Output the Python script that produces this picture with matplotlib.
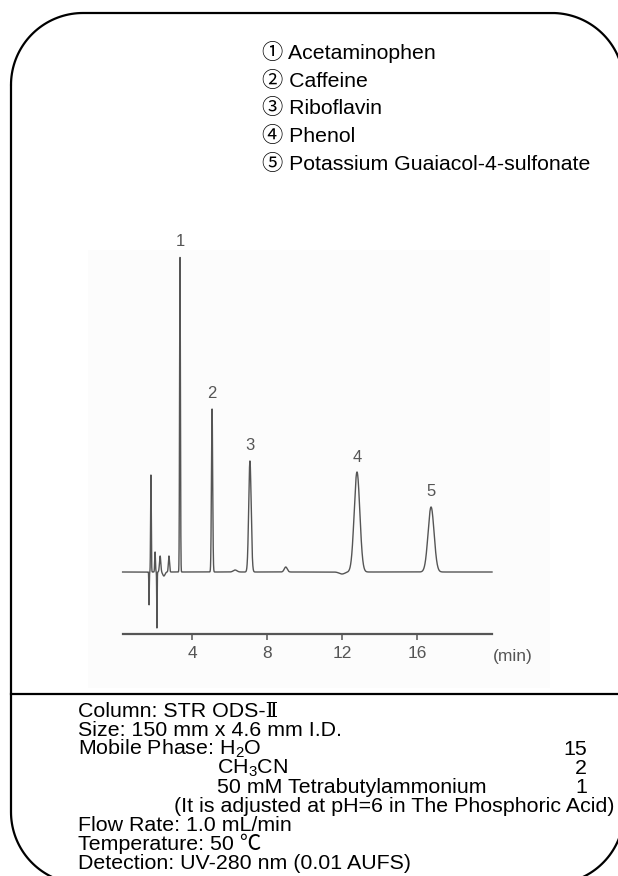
import numpy as np
import matplotlib
matplotlib.use("Agg")
import matplotlib.pyplot as plt
from matplotlib.patches import Rectangle

# ---------------- data ----------------
compounds = ["Acetaminophen", "Caffeine", "Riboflavin", "Phenol",
             "Potassium Guaiacol-4-sulfonate"]
circled = ["①", "②", "③", "④", "⑤"]
peak_labels = ["1", "2", "3", "4", "5"]
peak_rt = [3.36, 5.07, 7.09, 12.8, 16.75]          # min
peak_height = [315, 163, 111, 100, 65]              # detector units
peak_sigma = [0.022, 0.032, 0.065, 0.15, 0.16]      # min

# solvent front / minor features
minor_rt = [1.71, 1.81, 2.03, 2.13, 2.30, 2.50, 2.77, 6.3, 9.0, 12.0]
minor_height = [-33, 97, 20, -56, 16, -4, 16, 2, 5, -2]
minor_sigma = [0.012, 0.018, 0.02, 0.012, 0.035, 0.06, 0.03, 0.1, 0.08, 0.15]

time_start, time_end = 0.3, 20.0
x_ticks = [4, 8, 12, 16]
x_unit = "(min)"

info_lines = [
    "Column: STR ODS-Ⅱ",
    "Size: 150 mm x 4.6 mm I.D.",
    "Mobile Phase: H$_{2}$O",
    "CH$_{3}$CN",
    "50 mM Tetrabutylammonium",
    "(It is adjusted at pH=6 in The Phosphoric Acid)",
    "Flow Rate: 1.0 mL/min",
    "Temperature: 50 ℃",
    "Detection: UV-280 nm (0.01 AUFS)",
]
ratio_values = ["15", "2", "1"]

# ---------------- style ----------------
plt.rcParams["mathtext.fontset"] = "custom"
plt.rcParams["mathtext.rm"] = "Liberation Sans"
plt.rcParams["mathtext.it"] = "Liberation Sans:italic"
plt.rcParams["font.family"] = ["Liberation Sans", "Noto Sans CJK JP", "DejaVu Sans"]
FAM = ["Liberation Sans", "Noto Sans CJK JP", "DejaVu Sans"]
FAM_COL = ["Liberation Sans", "DejaVu Serif", "Noto Sans CJK JP"]
CHROM_FAM = ["Liberation Sans Narrow", "Liberation Sans", "DejaVu Sans"]
GRAY = "#555555"

W, H = 618, 876
fig = plt.figure(figsize=(W / 100, H / 100), dpi=100)

# overlay axes in pixel coordinates
ov = fig.add_axes([0, 0, 1, 1])
ov.set_xlim(0, W)
ov.set_ylim(H, 0)
ov.axis("off")

# faint scanned-image background
ov.add_patch(Rectangle((88, 250), 462, 438, facecolor="#fcfcfc", edgecolor="none", zorder=0))

# rounded border (manual path, pixel coords)
L, R, T, B, rad = 11.0, 624.0, 13.0, 884.0, 72.0
def arc(cx, cy, a0, a1, n=40):
    a = np.radians(np.linspace(a0, a1, n))
    return cx + rad * np.cos(a), cy + rad * np.sin(a)
segs_x, segs_y = [], []
for cx, cy, a0, a1 in [(L + rad, T + rad, 180, 270), (R - rad, T + rad, 270, 360),
                       (R - rad, B - rad, 0, 90), (L + rad, B - rad, 90, 180)]:
    ax_, ay_ = arc(cx, cy, a0, a1)
    segs_x.append(ax_); segs_y.append(ay_)
bx = np.concatenate(segs_x + [segs_x[0][:1]])
by = np.concatenate(segs_y + [segs_y[0][:1]])
ov.plot(bx, by, color="black", linewidth=1.6, zorder=3, solid_capstyle="round")
# divider
ov.plot([L, W], [694, 694], color="black", linewidth=1.6, zorder=3)

# legend
for i, (c, name) in enumerate(zip(circled, compounds)):
    ov.text(262, 59 + 27.75 * i, f"{c} {name}", fontsize=15.3, family=FAM,
            ha="left", va="baseline", color="black")

# info lines
indent = {3: 217, 4: 217, 5: 174}
for i, line in enumerate(info_lines):
    ov.text(indent.get(i, 78), 717 + 19 * i, line, fontsize=15.4,
            family=FAM_COL if i == 0 else FAM,
            ha="left", va="baseline", color="black")
for j, v in enumerate(ratio_values):
    ov.text(587, 717 + 19 * (2 + j), v, fontsize=15.4, family=FAM,
            ha="right", va="baseline", color="black")

# ---------------- chromatogram ----------------
px_per_min = 18.75
x0_px = 117.0            # pixel of t = 0
xmin, xmax = 0.0, 22.0
base_px = 572.0
ymin, ymax = -110.0, 340.0
left = x0_px / W
width = (xmax - xmin) * px_per_min / W
bottom = (H - (base_px - ymin)) / H
height = (ymax - ymin) / H
ax = fig.add_axes([left, bottom, width, height])
ax.set_xlim(xmin, xmax)
ax.set_ylim(ymin, ymax)
ax.patch.set_alpha(0)

t = np.linspace(time_start, time_end, 8000)
signal = np.zeros_like(t)
for rt, h, s in zip(peak_rt + minor_rt, peak_height + minor_height, peak_sigma + minor_sigma):
    signal += h * np.exp(-0.5 * ((t - rt) / s) ** 2)
ax.plot(t, signal, color=GRAY, linewidth=1.0, solid_joinstyle="round")

for rt, h, lab in zip(peak_rt, peak_height, peak_labels):
    ax.text(rt, h + 15, lab, ha="center", va="center", fontsize=12,
            family=CHROM_FAM, color=GRAY)

for s in ["left", "right", "top"]:
    ax.spines[s].set_visible(False)
ax.spines["bottom"].set_position(("data", -62))
ax.spines["bottom"].set_bounds(time_start, time_end)
ax.spines["bottom"].set_color(GRAY)
ax.spines["bottom"].set_linewidth(1.6)
ax.set_yticks([])
ax.set_xticks(x_ticks)
ax.set_xticklabels([str(v) for v in x_ticks], fontsize=12.5, color=GRAY, family=CHROM_FAM)
ax.tick_params(axis="x", direction="out", length=4, width=1.1, color=GRAY, pad=5)
ax.text(21.1, -85, x_unit, ha="center", va="center", fontsize=12.5, color=GRAY, family=CHROM_FAM)

fig.savefig("out.png", dpi=100)
